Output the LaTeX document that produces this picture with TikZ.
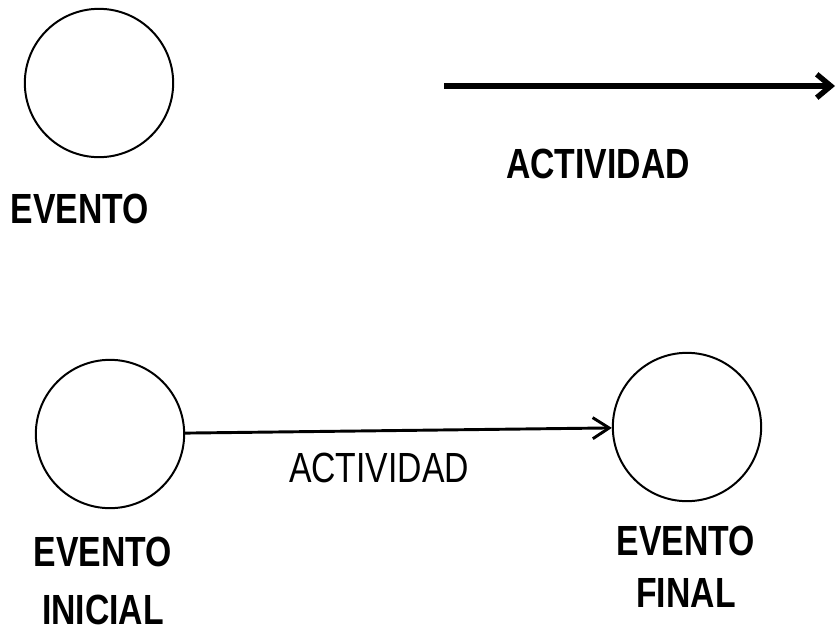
\documentclass[tikz,border=0pt]{standalone}
\usepackage{fontspec}
\newfontfamily\handfont[FakeStretch=0.8]{Liberation Sans}
\usetikzlibrary{arrows.meta}
\begin{document}
\begin{tikzpicture}[x=0.03cm,y=-0.03cm,
  evento/.style={circle,draw,line width=1.7pt,minimum size=4.45cm,inner sep=0pt},
  rotulo/.style={font=\handfont\bfseries\fontsize{36}{50}\selectfont,align=center,inner sep=0pt}]
  \useasboundingbox (0,0) rectangle (837,632);
  % simbolos sueltos
  \node [evento] (ev) at (99,83) {};
  \node [rotulo] (evlbl) at (80,209) {EVENTO};
  \coordinate (actini) at (444,86);
  \coordinate (actfin) at (835,86);
  \draw [line width=4.6pt,-{Straight Barb[length=12pt,width=20pt]}] (actini) -- (actfin);
  \node [rotulo] (actlbl) at (598,164) {ACTIVIDAD};
  % evento -- actividad -- evento
  \node [evento] (ini) at (110,434) {};
  \node [evento] (fin) at (687,427) {};
  \draw [line width=2.5pt,-{Straight Barb[length=14pt,width=18pt]}] (ini) -- (fin);
  \node [rotulo,font=\handfont\fontsize{36}{50}\selectfont] (actlbl2) at (379,468) {ACTIVIDAD};
  \node [rotulo] (inilbl) at (103,581) {EVENTO\\INICIAL};
  \node [rotulo,font=\handfont\bfseries\fontsize{36}{44}\selectfont] (finlbl) at (686,567) {EVENTO\\FINAL};
\end{tikzpicture}
\end{document}
